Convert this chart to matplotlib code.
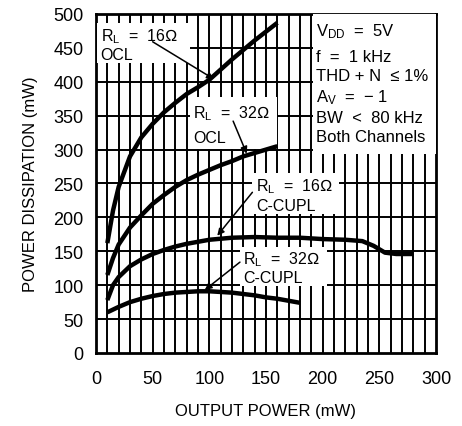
import numpy as np
import matplotlib
matplotlib.use('Agg')
from matplotlib import pyplot as plt
from matplotlib.patches import Rectangle

plt.rcParams['font.family'] = ['Liberation Sans', 'DejaVu Sans']
plt.rcParams['mathtext.fontset'] = 'custom'
plt.rcParams['mathtext.rm'] = 'Liberation Sans'
plt.rcParams['mathtext.it'] = 'Liberation Sans'

# Data (output power mW -> power dissipation mW)
x_16_ocl = [10, 15, 20, 30, 40, 50, 60, 70, 80, 90, 100, 110, 120, 130, 140, 150, 160]
y_16_ocl = [162, 210, 245, 290, 318, 338, 355, 369, 382, 392, 403, 418, 433, 447, 461, 474, 487]

x_32_ocl = [10, 15, 20, 30, 40, 50, 60, 70, 80, 90, 100, 110, 120, 130, 140, 150, 160]
y_32_ocl = [115, 140, 160, 185, 203, 220, 233, 245, 255, 263, 270, 277, 283, 290, 295, 300, 305]

x_16_cc = [10, 15, 20, 30, 40, 50, 60, 70, 80, 90, 100, 120, 140, 160, 180, 200, 220, 235, 245, 255, 265, 280]
y_16_cc = [78, 100, 112, 128, 138, 146, 152, 157, 161, 164, 167, 170, 171, 170, 170, 168, 167, 165, 158, 148, 146, 146]

x_32_cc = [10, 20, 30, 40, 50, 60, 70, 80, 90, 100, 110, 120, 130, 140, 150, 160, 170, 180]
y_32_cc = [60, 68, 75, 80, 84, 87, 89, 90, 91, 91, 90, 89, 87, 85, 82, 80, 77, 74]

x_ticks = [0, 50, 100, 150, 200, 250, 300]
y_ticks = [0, 50, 100, 150, 200, 250, 300, 350, 400, 450, 500]

conditions = ['$\\mathregular{V_{DD}}$  =  5V', 'f  =  1 kHz', 'THD + N  \u2264 1%',
              '$\\mathregular{A_{V}}$  =  \u2212 1', 'BW  <  80 kHz', 'Both Channels']


fig = plt.figure(figsize=(4.62, 4.27), dpi=100)
ax = fig.add_axes([0.2078, 0.171, 0.7359, 0.7939])

ax.set_xlim(0, 300)
ax.set_ylim(0, 500)

#grid: vertical every 10, horizontal every 50
for gx in range(10, 300, 10):
    ax.axvline(gx, color='black', lw=1.4, zorder=1)
for gy in range(50, 500, 50):
    ax.axhline(gy, color='black', lw=1.4, zorder=1)

for curve_x, curve_y in [(x_16_ocl, y_16_ocl), (x_32_ocl, y_32_ocl),
                         (x_16_cc, y_16_cc), (x_32_cc, y_32_cc)]:
    ax.plot(curve_x, curve_y, color='black', lw=3.2, solid_capstyle='butt', zorder=5)

ax.set_xticks(x_ticks)
ax.set_yticks(y_ticks)
ax.tick_params(axis='x', length=0, labelsize=13, pad=12)
ax.tick_params(axis='y', length=0, labelsize=13, pad=9)
for s in ax.spines.values():
    s.set_linewidth(2)

ax.set_xlabel('OUTPUT POWER (mW)', fontsize=12, labelpad=12)
ax.set_ylabel('POWER DISSIPATION (mW)', fontsize=12, labelpad=11)


#label boxes: white patch, two text lines and an arrow to the curve
def label_box(x0, x1, y0, y1, line1, line2, tail, head):
    ax.add_patch(Rectangle((x0, y0), x1 - x0, y1 - y0, facecolor='white',
                           edgecolor='none', zorder=3))
    tx = x0 + 3
    ax.text(tx, y1 - 0.3 * (y1 - y0), line1, fontsize=11.5, va='center', zorder=4)
    ax.text(tx, y0 + 0.22 * (y1 - y0), line2, fontsize=11.5, va='center', zorder=4)
    ax.annotate('', xy=head, xytext=tail, zorder=6,
                arrowprops=dict(arrowstyle='-|>', color='black', lw=1.1,
                                mutation_scale=10, shrinkA=0, shrinkB=0))


label_box(1, 83, 428, 486, '$\\mathregular{R_L}$  =  16\u2126', 'OCL', (50, 459), (104, 404))
label_box(83, 160, 301, 377, '$\\mathregular{R_L}$  =  32\u2126', 'OCL', (121, 342), (133, 294))
label_box(138, 214, 205, 265, '$\\mathregular{R_L}$  =  16\u2126', 'C-CUPL', (138, 237), (107, 173))
label_box(127, 204, 99, 156, '$\\mathregular{R_L}$  =  32\u2126', 'C-CUPL', (127, 134), (96, 93))

#test conditions box
ax.add_patch(Rectangle((191.5, 293), 300 - 191.5, 500 - 293, facecolor='white',
                       edgecolor='none', zorder=3))
cond_y = [475, 438, 409, 378, 348, 320]
for line, cy in zip(conditions, cond_y):
    ax.text(194, cy, line, fontsize=12, va='center', zorder=4)

fig.savefig('out.png', dpi=100)
